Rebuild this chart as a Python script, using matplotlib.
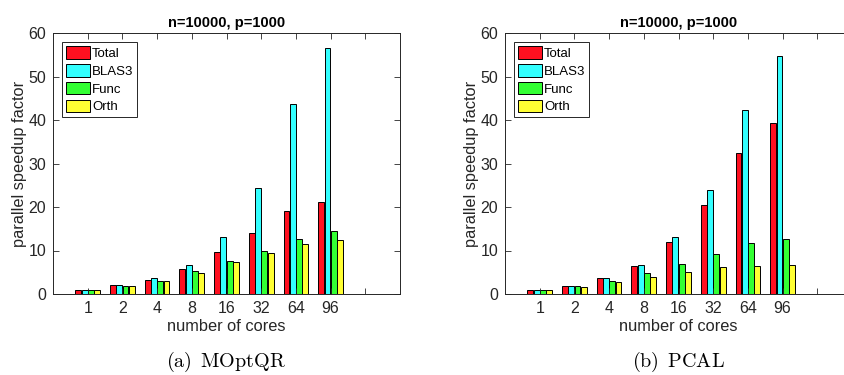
import numpy as np
import matplotlib.pyplot as plt

plt.rcParams['font.family'] = ['Liberation Sans', 'DejaVu Sans']
plt.rcParams['mathtext.fontset'] = 'cm'

# data
cores = ['1', '2', '4', '8', '16', '32', '64', '96']
series = ['Total', 'BLAS3', 'Func', 'Orth']
colors = ['#ff1020', '#33ffff', '#33ff33', '#ffff33']

moptqr_total = [1.0, 2.0, 3.3, 5.75, 9.6, 14.1, 19.0, 21.1]
moptqr_blas3 = [1.0, 2.0, 3.6, 6.6, 13.0, 24.3, 43.6, 56.5]
moptqr_func = [1.0, 1.9, 3.0, 5.2, 7.6, 9.9, 12.6, 14.5]
moptqr_orth = [1.0, 1.9, 3.0, 4.8, 7.3, 9.5, 11.6, 12.3]

pcal_total = [1.0, 1.9, 3.6, 6.4, 12.0, 20.5, 32.5, 39.3]
pcal_blas3 = [1.0, 1.9, 3.6, 6.6, 13.0, 23.8, 42.4, 54.6]
pcal_func = [1.0, 1.8, 3.1, 4.9, 7.0, 9.2, 11.7, 12.7]
pcal_orth = [1.0, 1.7, 2.7, 3.8, 5.1, 6.1, 6.5, 6.7]

panels = [
    ('(a)\\enspace MOptQR', [moptqr_total, moptqr_blas3, moptqr_func, moptqr_orth]),
    ('(b)\\enspace PCAL', [pcal_total, pcal_blas3, pcal_func, pcal_orth]),
]

fig = plt.figure(figsize=(8.45, 3.75), dpi=100)
lefts = [53 / 845, 505 / 845]

x = np.arange(1, len(cores) + 1)
w = 0.18
for left, (caption, data) in zip(lefts, panels):
    ax = fig.add_axes([left, 81 / 375, 347 / 845, 261 / 375])
    for i, (vals, name, c) in enumerate(zip(data, series, colors)):
        ax.bar(x + (i - 1.5) * w, vals, w * 0.95, color=c, edgecolor='black',
               linewidth=0.7, label=name)
    ax.set_xlim(0, 10)
    ax.set_ylim(0, 60)
    ax.set_xticks(np.arange(1, 10))
    ax.set_xticklabels(cores + [''])
    ax.set_yticks(np.arange(0, 61, 10))
    ax.tick_params(direction='in', top=True, right=True, labelsize=11.5,
                   colors='#262626', length=4, width=0.6, pad=5)
    for s in ax.spines.values():
        s.set_linewidth(0.7)
        s.set_color('#262626')
    ax.set_title('n=10000, p=1000', fontsize=10.5, fontweight='bold', pad=4)
    ax.set_ylabel('parallel speedup factor', fontsize=11.8, color='#262626', labelpad=1)
    ax.set_xlabel('number of cores', fontsize=11.8, color='#262626', labelpad=2)
    leg = ax.legend(loc='upper left', fontsize=9.5, handlelength=1.8, handleheight=1.1,
                    labelspacing=0.3, borderpad=0.3, handletextpad=0.15,
                    borderaxespad=0.7, fancybox=False, framealpha=1)
    leg.get_frame().set_edgecolor('#262626')
    leg.get_frame().set_linewidth(0.7)
    ax.text(0.5, -0.262, '$\\mathrm{' + caption + '}$', transform=ax.transAxes,
            ha='center', va='center', fontsize=14.5)

fig.savefig('out.png', dpi=100)
